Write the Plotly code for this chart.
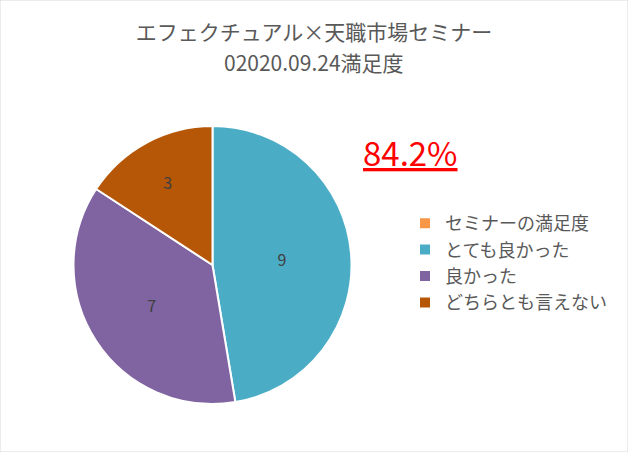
import plotly.graph_objects as go

labels = ["セミナーの満足度", "とても良かった", "良かった", "どちらとも言えない"]
values = [0, 9, 7, 3]
colors = ["#F79646", "#4BACC6", "#8064A2", "#B65708"]
title_line1 = "エフェクチュアル×天職市場セミナー"
title_line2 = "02020.09.24満足度"
highlight = "84.2%"

W, H = 628, 452
FONT = "Noto Sans CJK JP, Meiryo, sans-serif"

cx, cy, r = 212.5, 265, 139

fig = go.Figure(go.Pie(
    labels=labels,
    values=values,
    sort=False,
    direction="clockwise",
    rotation=0,
    marker=dict(colors=colors, line=dict(color="white", width=2)),
    texttemplate="%{value}",
    textposition="inside",
    insidetextorientation="horizontal",
    textfont=dict(color="#404040", size=16, family=FONT),
    domain=dict(x=[(cx - r) / W, (cx + r) / W],
                y=[(H - cy - r) / H, (H - cy + r) / H]),
    hoverinfo="label+value",
))

fig.update_layout(
    width=W, height=H,
    margin=dict(l=0, r=0, t=0, b=0),
    paper_bgcolor="white",
    plot_bgcolor="white",
    font=dict(family=FONT, color="#595959"),
    title=dict(text=title_line1, x=0.5, xanchor="center", xref="paper",
               y=1 - 33 / H, yanchor="middle", yref="paper",
               font=dict(size=21, color="#595959", family=FONT)),
    legend=dict(x=405 / W, y=1 - 263 / H, xanchor="left", yanchor="middle",
                font=dict(size=18, color="#595959", family=FONT),
                bgcolor="rgba(0,0,0,0)", itemclick=False),
    annotations=[
        dict(text=title_line2, x=0.5, y=1 - 62 / H, xref="paper", yref="paper",
             xanchor="center", yanchor="middle", showarrow=False,
             font=dict(size=21, color="#595959", family=FONT)),
        dict(text="<u>" + highlight + "</u>", x=410 / W, y=1 - 152 / H,
             xref="paper", yref="paper", showarrow=False,
             xanchor="center", yanchor="middle",
             font=dict(size=33, color="#FF0000", family=FONT)),
    ],
    shapes=[dict(type="rect", xref="paper", yref="paper", x0=0, y0=0, x1=1, y1=1,
                 line=dict(color="#D9D9D9", width=1))],
)

fig.write_html("out.html", config={"displayModeBar": False},
               post_script="document.body.style.margin='0';")
